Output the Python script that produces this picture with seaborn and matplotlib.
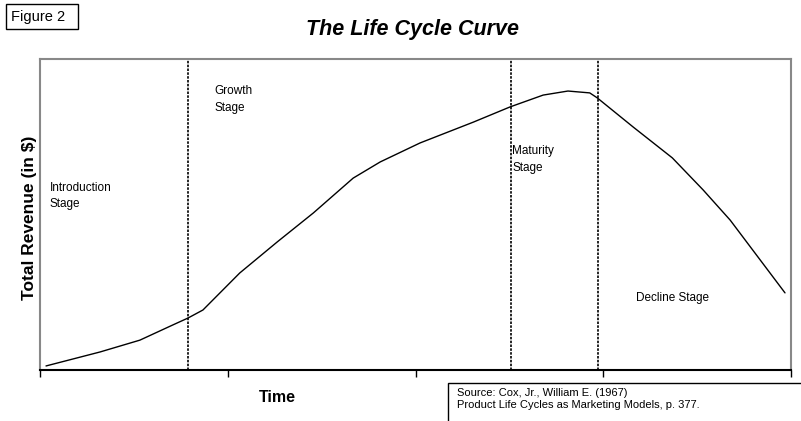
import numpy as np
import pandas as pd
import seaborn as sns
import matplotlib
from matplotlib import pyplot as plt
from matplotlib.patches import Rectangle

# values (time 0-100, revenue 0-100)
time = [0.8, 8.0, 13.3, 17.7, 19.7, 21.7, 26.6, 31.6, 36.4, 41.7, 45.3, 50.6,
        57.7, 62.6, 67.0, 70.3, 73.2, 74.2, 79.0, 84.2, 88.3, 91.9, 99.2]
revenue = [1.3, 5.8, 9.6, 14.5, 16.7, 19.3, 31.2, 41.2, 50.5, 61.7, 66.9, 73.0,
           79.7, 84.6, 88.4, 89.7, 89.1, 87.5, 78.1, 68.2, 57.9, 48.2, 24.8]
stage_bounds = [19.7, 62.7, 74.3]
x_ticks = [0, 25, 50, 75, 100]
stage_labels = ["Introduction\nStage", "Growth\nStage", "Maturity\nStage", "Decline Stage"]
stage_pos = [(1.3, 60.5), (23.2, 91.5), (62.9, 72.3), (79.4, 25.0)]

sns.set_style("white")
plt.rcParams['font.family'] = ['Liberation Sans', 'DejaVu Sans']
plt.rcParams['text.color'] = 'black'

df = pd.DataFrame({'Time': time, 'Revenue': revenue})

W, H = 801, 421
fig = plt.figure(figsize=(W / 100, H / 100), dpi=100)
ax = fig.add_axes([40 / W, 51 / H, 751 / W, 311 / H])

sns.lineplot(data=df, x='Time', y='Revenue', ax=ax, color='black', linewidth=1.0, sort=False)

for b in stage_bounds:
    ax.axvline(b, color='black', linestyle=(0, (1.5, 0.8)), linewidth=1.2)

ax.set_xlim(0, 100)
ax.set_ylim(0, 100)
ax.set_xticks(x_ticks)
ax.set_xticklabels([])
ax.set_yticks([])
ax.tick_params(axis='x', direction='out', length=5, width=1, color='black', bottom=True)

for side in ['left', 'top', 'right']:
    ax.spines[side].set_color('#888888')
    ax.spines[side].set_linewidth(1.5)
ax.spines['bottom'].set_color('black')
ax.spines['bottom'].set_linewidth(1.5)

ax.set_xlabel('')
ax.set_ylabel('')

narrow = ['Liberation Sans Narrow', 'Liberation Sans', 'DejaVu Sans']
for lab, (x, y) in zip(stage_labels, stage_pos):
    ax.text(x, y, lab, fontsize=8.5, family=narrow, va='top', ha='left', linespacing=1.5, color='black')

fig.text(412 / W, 1 - 30 / H, 'The Life Cycle Curve', fontsize=15.5, fontweight='bold',
         fontstyle='italic', ha='center', va='center', color='black')
fig.text(30 / W, 1 - 218 / H, 'Total Revenue (in $)', fontsize=12.5, fontweight='bold',
         rotation=90, ha='center', va='center', color='black')
fig.text(277 / W, 1 - 397 / H, 'Time', fontsize=11.5, fontweight='bold',
         ha='center', va='center', color='black')

# "Figure 2" box
fig.patches.append(Rectangle((6 / W, 1 - 29 / H), 72 / W, 25 / H, transform=fig.transFigure,
                             fill=False, edgecolor='black', linewidth=1))
fig.text(11 / W, 1 - 17 / H, 'Figure 2', fontsize=10.5, ha='left', va='center', color='black')

# source box, running off the bottom and right edges
fig.patches.append(Rectangle((448 / W, -10 / H), 400 / W, (H - 383 + 10) / H, transform=fig.transFigure,
                             fill=False, edgecolor='black', linewidth=1))
fig.text(457 / W, 1 - 393 / H, 'Source: Cox, Jr., William E. (1967)', fontsize=8, ha='left', va='center', color='black')
fig.text(457 / W, 1 - 405.5 / H, 'Product Life Cycles as Marketing Models, p. 377.', fontsize=8, ha='left', va='center', color='black')

plt.savefig('out.png', dpi=100)
